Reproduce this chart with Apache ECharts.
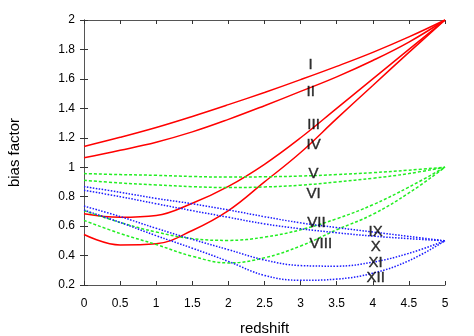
<!DOCTYPE html>
<html>
<head>
<meta charset="utf-8">
<script src="https://cdn.jsdelivr.net/npm/echarts@6/dist/echarts.min.js"></script>
<style>
  html, body { margin: 0; padding: 0; background: #fff; }
  #chart { width: 474px; height: 336px; }
</style>
</head>
<body>
<div id="chart"></div>
<script>
// redshift grid shared by all curves
const redshift = [0, 0.5, 1, 1.5, 2, 2.5, 3, 3.5, 4, 4.5, 5];

// red, solid
const curveI    = [1.141, 1.203, 1.27, 1.345, 1.425, 1.508, 1.595, 1.685, 1.78, 1.885, 2.0];
const curveII   = [1.064, 1.115, 1.17, 1.24, 1.325, 1.418, 1.515, 1.614, 1.725, 1.85, 2.0];
const curveIII  = [0.684, 0.66, 0.672, 0.755, 0.87, 1.02, 1.2, 1.40, 1.60, 1.80, 2.0];
const curveIV   = [0.543, 0.472, 0.48, 0.57, 0.705, 0.90, 1.10, 1.33, 1.555, 1.78, 2.0];
// green, dashed
const curveV    = [0.957, 0.95, 0.945, 0.937, 0.933, 0.935, 0.94, 0.95, 0.963, 0.98, 1.0];
const curveVI   = [0.911, 0.893, 0.88, 0.868, 0.862, 0.866, 0.878, 0.90, 0.925, 0.957, 1.0];
const curveVII  = [0.705, 0.625, 0.56, 0.515, 0.503, 0.525, 0.575, 0.65, 0.745, 0.865, 1.0];
const curveVIII = [0.639, 0.55, 0.475, 0.395, 0.35, 0.385, 0.465, 0.575, 0.68, 0.825, 1.0];
// blue, dotted
const curveIX   = [0.868, 0.83, 0.788, 0.752, 0.71, 0.664, 0.622, 0.59, 0.56, 0.53, 0.5];
const curveX    = [0.843, 0.80, 0.752, 0.705, 0.66, 0.615, 0.582, 0.555, 0.532, 0.515, 0.5];
const curveXI   = [0.736, 0.665, 0.585, 0.51, 0.44, 0.37, 0.332, 0.328, 0.355, 0.415, 0.5];
const curveXII  = [0.709, 0.625, 0.535, 0.45, 0.36, 0.265, 0.232, 0.24, 0.28, 0.365, 0.5];

// curve labels and where they sit (data coords)
const labelNames = ['I', 'II', 'III', 'IV', 'V', 'VI', 'VII', 'VIII', 'IX', 'X', 'XI', 'XII'];
const labelX     = [3.14, 3.14, 3.18, 3.18, 3.18, 3.18, 3.22, 3.28, 4.04, 4.04, 4.04, 4.04];
const labelY     = [1.695, 1.51, 1.29, 1.15, 0.958, 0.82, 0.62, 0.48, 0.56, 0.46, 0.35, 0.25];

const xTicks = [0, 0.5, 1, 1.5, 2, 2.5, 3, 3.5, 4, 4.5, 5];
const yTicks = [0.2, 0.4, 0.6, 0.8, 1, 1.2, 1.4, 1.6, 1.8, 2];

const RED = '#ff0000', GREEN = '#22ee22', BLUE = '#1a1aff';
const FONT = 'Liberation Sans, Arial, sans-serif';

function line(vals, color, type) {
  return {
    type: 'line',
    data: redshift.map((x, i) => [x, vals[i]]),
    smooth: 0.4,
    symbol: 'none',
    silent: true,
    lineStyle: { color: color, width: 1.5, type: type },
    z: 3
  };
}

const myChart = echarts.init(document.getElementById('chart'));

const frameAxis = {
  axisLine: { show: true, lineStyle: { color: '#555', width: 1 } },
  axisTick: { show: true, inside: true, length: 4, lineStyle: { color: '#333' } },
  splitLine: { show: false }
};

const option = {
  animation: false,
  backgroundColor: '#fff',
  grid: { left: 84, right: 29, top: 20, bottom: 51, containLabel: false, outerBoundsMode: 'none' },
  xAxis: [
    Object.assign({
      type: 'value', min: 0, max: 5, interval: 0.5,
      name: 'redshift', nameLocation: 'middle', nameGap: 36,
      nameTextStyle: { fontFamily: FONT, fontSize: 15, color: '#000' },
      axisLabel: { fontFamily: FONT, fontSize: 12, color: '#000', margin: 13,
        formatter: v => xTicks.indexOf(v) >= 0 ? String(v) : '' }
    }, frameAxis),
    Object.assign({
      type: 'value', min: 0, max: 5, interval: 0.5, position: 'top',
      axisLabel: { show: false }
    }, frameAxis)
  ],
  yAxis: [
    Object.assign({
      type: 'value', min: 0.2, max: 2, interval: 0.2,
      name: 'bias factor', nameLocation: 'middle', nameGap: 62, nameRotate: 90,
      nameTextStyle: { fontFamily: FONT, fontSize: 15, color: '#000' },
      axisLabel: { fontFamily: FONT, fontSize: 12, color: '#000', margin: 9,
        formatter: v => {
          const t = yTicks.find(y => Math.abs(y - v) < 1e-6);
          return t === undefined ? '' : String(t);
        } }
    }, frameAxis),
    Object.assign({
      type: 'value', min: 0.2, max: 2, interval: 0.2, position: 'right',
      axisLabel: { show: false }
    }, frameAxis)
  ],
  series: [
    line(curveI, RED, 'solid'),
    line(curveII, RED, 'solid'),
    line(curveIII, RED, 'solid'),
    line(curveIV, RED, 'solid'),
    line(curveV, GREEN, [3, 2]),
    line(curveVI, GREEN, [3, 2]),
    line(curveVII, GREEN, [3, 2]),
    line(curveVIII, GREEN, [3, 2]),
    line(curveIX, BLUE, [1.5, 1.5]),
    line(curveX, BLUE, [1.5, 1.5]),
    line(curveXI, BLUE, [1.5, 1.5]),
    line(curveXII, BLUE, [1.5, 1.5]),
    {
      type: 'scatter',
      symbolSize: 0,
      silent: true,
      z: 5,
      data: labelNames.map((n, i) => ({ name: n, value: [labelX[i], labelY[i]] })),
      label: {
        show: true, position: 'inside', formatter: p => p.name,
        fontFamily: FONT, fontSize: 15, color: '#000',
        textBorderColor: '#000', textBorderWidth: 0.4
      }
    }
  ]
};

myChart.setOption(option);
</script>
</body>
</html>
